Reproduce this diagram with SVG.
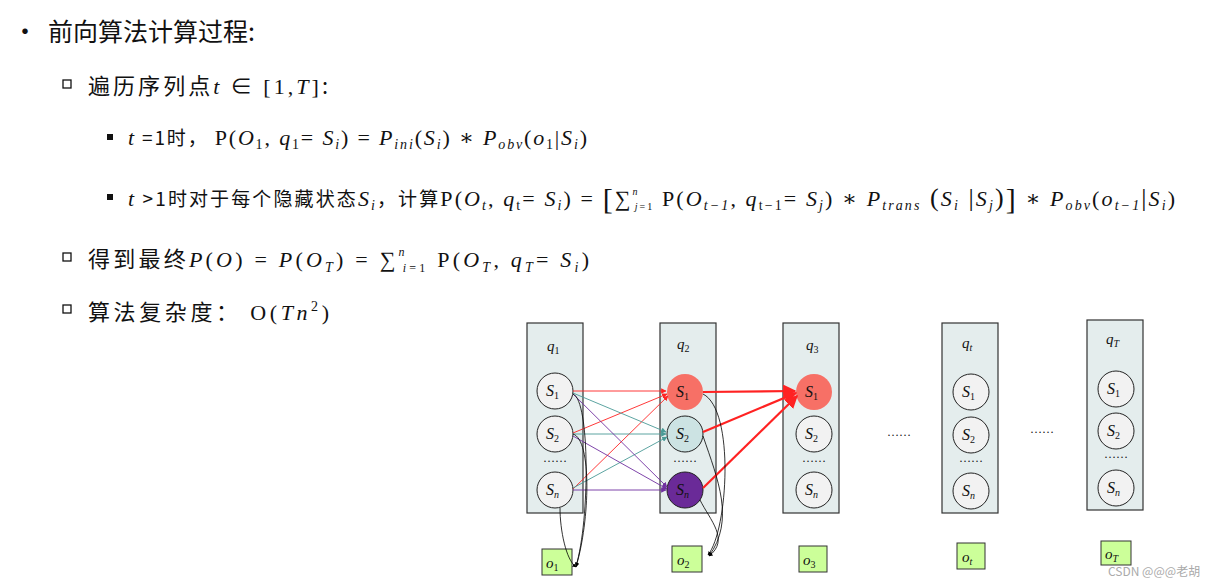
<svg xmlns="http://www.w3.org/2000/svg" width="1223" height="588" viewBox="0 0 1223 588">
<style>
.t{font-family:"Noto Sans CJK SC","Noto Sans",sans-serif;fill:#111}
.m{font-family:"Liberation Serif","DejaVu Serif",serif;font-style:italic;fill:#111}
.r{font-family:"Liberation Serif","DejaVu Serif",serif;fill:#111}
.f{font-size:22px}
.col{fill:#e4eded;stroke:#333;stroke-width:1.2}
.st{fill:#f2f2f2;stroke:#222;stroke-width:1}
.ob{fill:#ccff99;stroke:#333;stroke-width:1}
.sub{font-size:14px}
.sb{font-size:10px}
</style>
<defs>
<marker id="ar" viewBox="0 0 10 10" refX="9" refY="5" markerWidth="6" markerHeight="6" orient="auto"><path d="M0,0L10,5L0,10z" fill="#f22"/></marker>
<marker id="at" viewBox="0 0 10 10" refX="9" refY="5" markerWidth="6" markerHeight="6" orient="auto"><path d="M0,0L10,5L0,10z" fill="#4a9a96"/></marker>
<marker id="ap" viewBox="0 0 10 10" refX="9" refY="5" markerWidth="6" markerHeight="6" orient="auto"><path d="M0,0L10,5L0,10z" fill="#7030a0"/></marker>
<marker id="ak" viewBox="0 0 10 10" refX="9" refY="5" markerWidth="5" markerHeight="5" orient="auto"><path d="M0,0L10,5L0,10z" fill="#000"/></marker>
</defs>
<g id="text">
<text x="12" y="41" class="t" font-size="26">•</text>
<text x="48" y="41" class="t" font-size="25">前向算法计算过程:</text>
<rect x="63" y="80" width="8" height="8" fill="none" stroke="#111" stroke-width="1.3"/>
<text x="88" y="94" class="t" font-size="22" textLength="240" lengthAdjust="spacing">遍历序列点<tspan class="m f">t</tspan> ∈ <tspan class="r f">[1,<tspan class="m">T</tspan>]</tspan>:</text>
<rect x="107" y="134" width="6" height="6" fill="#111"/>
<text x="128" y="145" class="t" font-size="19" textLength="459" lengthAdjust="spacing"><tspan class="m f">t</tspan> =1时，  <tspan class="r f">P(<tspan class="m">O</tspan><tspan class="sub" dy="4">1</tspan><tspan dy="-4">, </tspan><tspan class="m">q</tspan><tspan class="sub" dy="4">1</tspan><tspan dy="-4">= </tspan><tspan class="m">S<tspan class="sub" dy="4">i</tspan></tspan><tspan dy="-4">) = </tspan><tspan class="m">P<tspan class="sub" dy="4">ini</tspan></tspan><tspan dy="-4">(</tspan><tspan class="m">S<tspan class="sub" dy="4">i</tspan></tspan><tspan dy="-4">) ∗ </tspan><tspan class="m">P<tspan class="sub" dy="4">obv</tspan></tspan><tspan dy="-4">(</tspan><tspan class="m">o</tspan><tspan class="sub" dy="4">1</tspan><tspan dy="-4">|</tspan><tspan class="m">S<tspan class="sub" dy="4">i</tspan></tspan><tspan dy="-4">)</tspan></tspan></text>
<rect x="107" y="194" width="6" height="6" fill="#111"/>
<text x="128" y="206" class="t" font-size="19" textLength="1047" lengthAdjust="spacing"><tspan class="m f">t</tspan> &gt;1时对于每个隐藏状态<tspan class="m f">S<tspan class="sub" dy="4">i</tspan></tspan><tspan dy="-4">，计算</tspan><tspan class="r f">P(<tspan class="m">O<tspan class="sub" dy="4">t</tspan></tspan><tspan dy="-4">, </tspan><tspan class="m">q</tspan><tspan class="sub" dy="4">t</tspan><tspan dy="-4">= </tspan><tspan class="m">S<tspan class="sub" dy="4">i</tspan></tspan><tspan dy="-4">) = </tspan><tspan font-size="30" dy="3">[</tspan><tspan dy="-3">∑</tspan><tspan class="sb m" dy="-11">n</tspan><tspan class="sb" dx="-5" dy="15"><tspan class="m">j</tspan>=1</tspan><tspan dy="-4"> P(</tspan><tspan class="m">O<tspan class="sub" dy="4">t−1</tspan></tspan><tspan dy="-4">, </tspan><tspan class="m">q</tspan><tspan class="sub" dy="4">t−1</tspan><tspan dy="-4">= </tspan><tspan class="m">S<tspan class="sub" dy="4">j</tspan></tspan><tspan dy="-4">) ∗ </tspan><tspan class="m">P<tspan class="sub" dy="4">trans</tspan></tspan><tspan dy="-4" font-size="26"> (</tspan><tspan class="m">S<tspan class="sub" dy="4">i</tspan></tspan><tspan dy="-4" font-size="26"> |</tspan><tspan class="m">S<tspan class="sub" dy="4">j</tspan></tspan><tspan dy="-4" font-size="26">)</tspan><tspan font-size="30" dy="3">]</tspan><tspan dy="-3"> ∗ </tspan><tspan class="m">P<tspan class="sub" dy="4">obv</tspan></tspan><tspan dy="-4">(</tspan><tspan class="m">o<tspan class="sub" dy="4">t−1</tspan></tspan><tspan dy="-4" font-size="26">|</tspan><tspan class="m">S<tspan class="sub" dy="4">i</tspan></tspan><tspan dy="-4">)</tspan></tspan></text>
<rect x="63" y="253" width="8" height="8" fill="none" stroke="#111" stroke-width="1.3"/>
<text x="88" y="267" class="t" font-size="22" textLength="501" lengthAdjust="spacing">得到最终<tspan class="m">P</tspan><tspan class="r">(<tspan class="m">O</tspan>) = </tspan><tspan class="m">P</tspan><tspan class="r">(<tspan class="m">O<tspan font-size="14" dy="5">T</tspan></tspan><tspan dy="-5">) = ∑</tspan><tspan font-size="12" class="m" dy="-11">n</tspan><tspan font-size="12" dx="-5" dy="16"><tspan class="m">i</tspan>=1</tspan><tspan dy="-5"> P(</tspan><tspan class="m">O<tspan font-size="14" dy="5">T</tspan></tspan><tspan dy="-5">, </tspan><tspan class="m">q<tspan font-size="14" dy="5">T</tspan></tspan><tspan dy="-5">= </tspan><tspan class="m">S<tspan font-size="14" dy="5">i</tspan></tspan><tspan dy="-5">)</tspan></tspan></text>
<rect x="63" y="305" width="8" height="8" fill="none" stroke="#111" stroke-width="1.3"/>
<text x="88" y="320" class="t" font-size="22" textLength="241" lengthAdjust="spacing">算法复杂度： <tspan class="r">O(<tspan class="m">Tn</tspan><tspan font-size="14" dy="-9">2</tspan><tspan dy="9">)</tspan></tspan></text>
</g>
<g id="col1"><rect class="col" x="527" y="323" width="56" height="190"/><text x="547" y="351" class="m" font-size="15">q<tspan class="sb" dy="3" font-style="normal">1</tspan></text></g>
<g id="col2"><rect class="col" x="660" y="323" width="56" height="190"/><text x="677" y="349" class="m" font-size="15">q<tspan class="sb" dy="3" font-style="normal">2</tspan></text></g>
<g id="col3"><rect class="col" x="783" y="323" width="56" height="190"/><text x="806" y="350" class="m" font-size="15">q<tspan class="sb" dy="3" font-style="normal">3</tspan></text></g>
<g id="colt"><rect class="col" x="942" y="323" width="56" height="190"/><text x="962" y="348" class="m" font-size="15">q<tspan class="sb" dy="3">t</tspan></text></g>
<g id="colT"><rect class="col" x="1087" y="320" width="56" height="190"/><text x="1106" y="344" class="m" font-size="15">q<tspan class="sb" dy="3">T</tspan></text></g>
<g id="states" font-size="16">
<circle class="st" cx="555" cy="391" r="18"/><text x="546" y="396" class="m">S<tspan class="sb" dy="3" font-style="normal">1</tspan></text>
<circle class="st" cx="555" cy="434" r="18"/><text x="546" y="439" class="m">S<tspan class="sb" dy="3" font-style="normal">2</tspan></text>
<text x="555" y="462" class="r" font-size="12" text-anchor="middle">……</text>
<circle class="st" cx="555" cy="490" r="18"/><text x="546" y="495" class="m">S<tspan class="sb" dy="3">n</tspan></text>
<circle cx="685" cy="392" r="18" fill="#f77066"/><text x="676" y="397" class="m">S<tspan class="sb" dy="3" font-style="normal">1</tspan></text>
<circle cx="685" cy="434" r="18" fill="#cce3e3" stroke="#222"/><text x="676" y="439" class="m">S<tspan class="sb" dy="3" font-style="normal">2</tspan></text>
<text x="685" y="462" class="r" font-size="12" text-anchor="middle">……</text>
<circle cx="685" cy="490" r="18" fill="#6a2a98" stroke="#222"/><text x="676" y="495" class="m">S<tspan class="sb" dy="3">n</tspan></text>
<circle cx="814" cy="392" r="18" fill="#f77066"/><text x="805" y="397" class="m">S<tspan class="sb" dy="3" font-style="normal">1</tspan></text>
<circle class="st" cx="814" cy="434" r="18"/><text x="805" y="439" class="m">S<tspan class="sb" dy="3" font-style="normal">2</tspan></text>
<text x="814" y="462" class="r" font-size="12" text-anchor="middle">……</text>
<circle class="st" cx="814" cy="490" r="18"/><text x="805" y="495" class="m">S<tspan class="sb" dy="3">n</tspan></text>
<circle class="st" cx="971" cy="392" r="18"/><text x="962" y="397" class="m">S<tspan class="sb" dy="3" font-style="normal">1</tspan></text>
<circle class="st" cx="971" cy="435" r="18"/><text x="962" y="440" class="m">S<tspan class="sb" dy="3" font-style="normal">2</tspan></text>
<text x="971" y="462" class="r" font-size="12" text-anchor="middle">……</text>
<circle class="st" cx="971" cy="491" r="18"/><text x="962" y="496" class="m">S<tspan class="sb" dy="3">n</tspan></text>
<circle class="st" cx="1116" cy="389" r="18"/><text x="1107" y="394" class="m">S<tspan class="sb" dy="3" font-style="normal">1</tspan></text>
<circle class="st" cx="1116" cy="431" r="18"/><text x="1107" y="436" class="m">S<tspan class="sb" dy="3" font-style="normal">2</tspan></text>
<text x="1116" y="458" class="r" font-size="12" text-anchor="middle">……</text>
<circle class="st" cx="1116" cy="488" r="18"/><text x="1107" y="493" class="m">S<tspan class="sb" dy="3">n</tspan></text>
<text x="899" y="436" class="r" font-size="12" text-anchor="middle">……</text>
<text x="1042" y="433" class="r" font-size="12" text-anchor="middle">……</text>
</g>
<g id="obs" font-size="15">
<rect class="ob" x="542" y="549" width="30" height="26"/><text x="546" y="568" class="m">o<tspan class="sb" dy="3" font-style="normal">1</tspan></text>
<rect class="ob" x="672" y="546" width="30" height="26"/><text x="677" y="565" class="m">o<tspan class="sb" dy="3" font-style="normal">2</tspan></text>
<rect class="ob" x="799" y="546" width="28" height="26"/><text x="803" y="565" class="m">o<tspan class="sb" dy="3" font-style="normal">3</tspan></text>
<rect class="ob" x="957" y="543" width="28" height="26"/><text x="962" y="562" class="m">o<tspan class="sb" dy="3">t</tspan></text>
<rect class="ob" x="1101" y="541" width="30" height="24"/><text x="1105" y="559" class="m">o<tspan class="sb" dy="3">T</tspan></text>
</g>
<g id="connectors" fill="none">
<g stroke="#f22" stroke-width="0.9" marker-end="url(#ar)">
<line x1="573" y1="391" x2="666" y2="391"/><line x1="573" y1="433" x2="667" y2="394"/><line x1="573" y1="489" x2="668" y2="396"/>
</g>
<g stroke="#4a9a96" stroke-width="0.9" marker-end="url(#at)">
<line x1="573" y1="393" x2="666" y2="432"/><line x1="573" y1="434" x2="666" y2="434"/><line x1="573" y1="488" x2="667" y2="437"/>
</g>
<g stroke="#7030a0" stroke-width="0.9" marker-end="url(#ap)">
<line x1="573" y1="394" x2="667" y2="487"/><line x1="573" y1="436" x2="667" y2="489"/><line x1="573" y1="490" x2="666" y2="490"/>
</g>
<g stroke="#f22" stroke-width="2.2" marker-end="url(#ar)">
<line x1="703" y1="392" x2="795" y2="391"/><line x1="703" y1="432" x2="796" y2="393"/><line x1="703" y1="488" x2="797" y2="396"/>
</g>
<g stroke="#000" stroke-width="0.8" marker-end="url(#ak)">
<path d="M573,394 C590,400 590,520 576,566"/><path d="M573,434 C592,440 590,520 576,567"/><path d="M560,508 C560,530 566,560 576,567"/>
<path d="M703,394 C735,410 728,530 708,555"/><path d="M703,436 C718,480 735,520 709,556"/><path d="M700,500 C710,520 730,540 709,556"/>
</g>
</g>
<text x="1108" y="576" font-family="Noto Sans CJK SC,sans-serif" font-size="12" fill="#aaa">CSDN @@@老胡</text>
</svg>
